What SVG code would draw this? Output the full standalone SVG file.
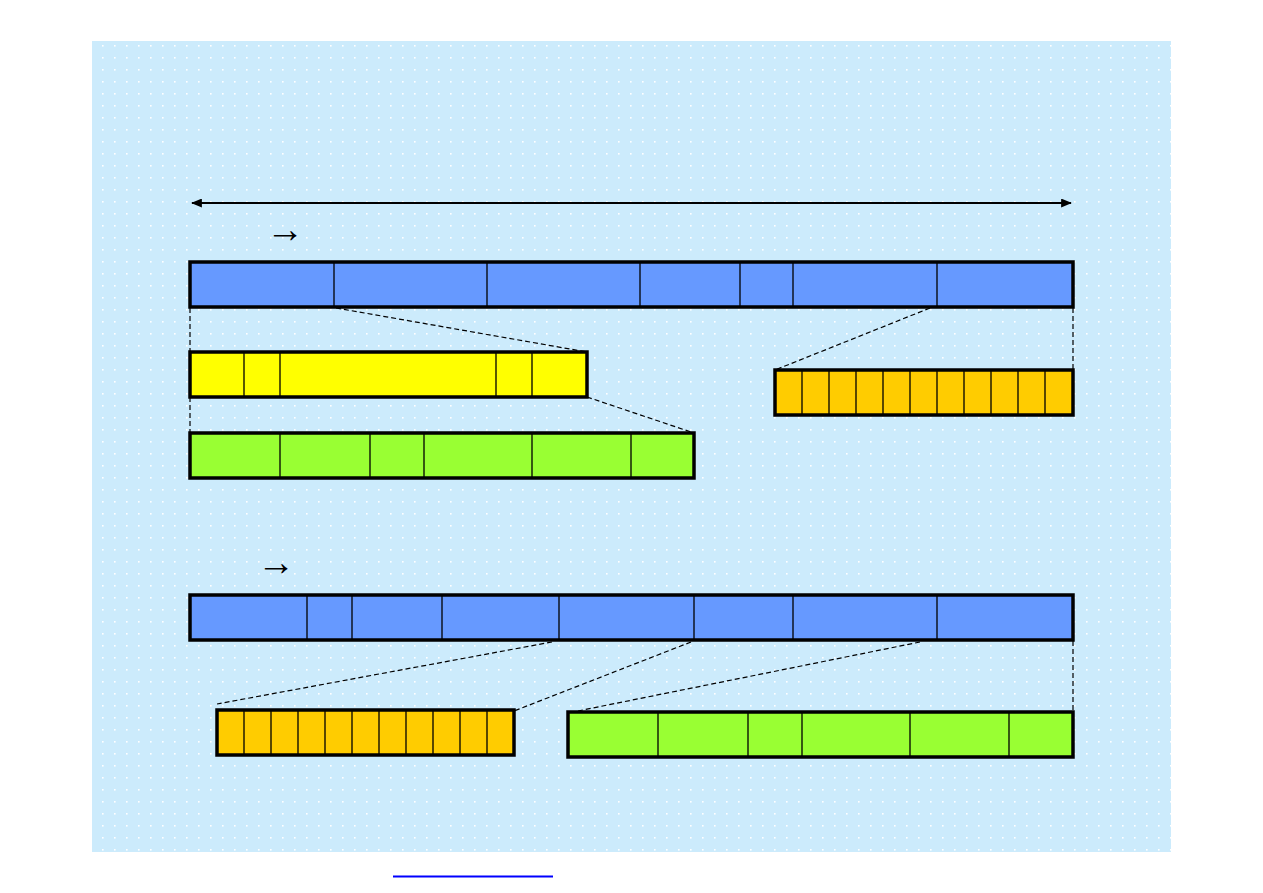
<svg xmlns="http://www.w3.org/2000/svg" width="1263" height="893" viewBox="0 0 1263 893">
<defs>
<pattern id="dots" x="102" y="45" width="12" height="12" patternUnits="userSpaceOnUse">
<rect x="0" y="0" width="1.6" height="1.6" fill="#ffffff"/>
</pattern>
<marker id="ah" viewBox="0 0 12 10" refX="11" refY="5" markerWidth="12" markerHeight="9" markerUnits="userSpaceOnUse" orient="auto-start-reverse">
<path d="M0,0 L12,5 L0,10 z" fill="#000"/>
</marker>
</defs>
<style>
.bar{stroke:#000;stroke-width:3.5}
.div{stroke:#000;stroke-width:1.3}
.blue{fill:#6699FF}
.yellow{fill:#FFFF00}
.green{fill:#99FF33}
.orange{fill:#FFCC00}
.dash{stroke:#000;stroke-width:1.2;stroke-dasharray:5 3;fill:none}
.sym{font-family:"Liberation Serif",serif;font-size:38px;fill:#000}
</style>
<rect x="0" y="0" width="1263" height="893" fill="#ffffff"/>
<rect x="92" y="41" width="1079" height="811" fill="#CCEBFC"/>
<rect x="92" y="41" width="1079" height="811" fill="url(#dots)"/>

<g id="connectors">
<line x1="192" y1="203" x2="1071" y2="203" stroke="#000" stroke-width="2" marker-start="url(#ah)" marker-end="url(#ah)"/>
<line class="dash" x1="336" y1="308" x2="587" y2="352"/>
<line class="dash" x1="190" y1="308" x2="190" y2="352"/>
<line class="dash" x1="587" y1="397" x2="694" y2="433"/>
<line class="dash" x1="190" y1="397" x2="190" y2="433"/>
<line class="dash" x1="930" y1="308" x2="775" y2="370"/>
<line class="dash" x1="1073" y1="308" x2="1073" y2="370"/>
<line class="dash" x1="552" y1="642" x2="217" y2="704"/>
<line class="dash" x1="691" y1="642" x2="514" y2="711"/>
<line class="dash" x1="920" y1="642" x2="578" y2="711"/>
<line class="dash" x1="1073" y1="641" x2="1073" y2="712"/>
</g>

<text class="sym" x="266" y="242">→</text>
<text class="sym" x="257" y="575">→</text>

<g id="blue-top">
<rect class="bar blue" x="190" y="262" width="883" height="45"/>
<path class="div" d="M334,262V307M487,262V307M640,262V307M740,262V307M793,262V307M937,262V307"/>
</g>
<g id="yellow-top">
<rect class="bar yellow" x="190" y="352" width="397" height="45"/>
<path class="div" d="M244,352V397M280,352V397M496,352V397M532,352V397"/>
</g>
<g id="green-top">
<rect class="bar green" x="190" y="433" width="504" height="45"/>
<path class="div" d="M280,433V478M370,433V478M424,433V478M532,433V478M631,433V478"/>
</g>
<g id="orange-top">
<rect class="bar orange" x="775" y="370" width="298" height="45"/>
<path class="div" d="M802,370V415M829,370V415M856,370V415M883,370V415M910,370V415M937,370V415M964,370V415M991,370V415M1018,370V415M1045,370V415"/>
</g>
<g id="blue-bottom">
<rect class="bar blue" x="190" y="595" width="883" height="45"/>
<path class="div" d="M307,595V640M352,595V640M442,595V640M559,595V640M694,595V640M793,595V640M937,595V640"/>
</g>
<g id="orange-bottom">
<rect class="bar orange" x="217" y="710" width="297" height="45"/>
<path class="div" d="M244,710V755M271,710V755M298,710V755M325,710V755M352,710V755M379,710V755M406,710V755M433,710V755M460,710V755M487,710V755"/>
</g>
<g id="green-bottom">
<rect class="bar green" x="568" y="712" width="505" height="45"/>
<path class="div" d="M658,712V757M748,712V757M802,712V757M910,712V757M1009,712V757"/>
</g>
<line x1="393" y1="876.5" x2="553" y2="876.5" stroke="#0000FF" stroke-width="2"/>
</svg>
